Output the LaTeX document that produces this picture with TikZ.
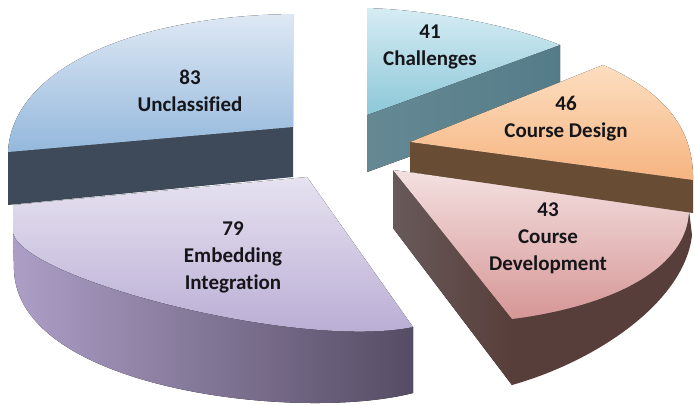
\documentclass[tikz,border=0pt]{standalone}
\usepackage{fontspec}
\setmainfont{Carlito}[Ligatures=NoCommon]
\usepackage{xcolor}
\definecolor{labeltext}{RGB}{22,22,26}
\definecolor{blueTop}{RGB}{222,232,244}
\definecolor{blueBot}{RGB}{148,184,220}
\definecolor{blueCut}{RGB}{62,74,90}
\definecolor{tealTop}{RGB}{214,236,244}
\definecolor{tealBot}{RGB}{140,200,216}
\definecolor{tealCut}{RGB}{84,124,136}
\definecolor{orangeTop}{RGB}{252,222,192}
\definecolor{orangeBot}{RGB}{246,180,128}
\definecolor{orangeCut}{RGB}{104,76,52}
\definecolor{pinkTop}{RGB}{244,224,224}
\definecolor{pinkBot}{RGB}{214,150,150}
\definecolor{pinkCut}{RGB}{104,90,90}
\definecolor{pinkWall}{RGB}{88,62,58}
\definecolor{lilacTop}{RGB}{230,226,240}
\definecolor{lilacBot}{RGB}{182,168,210}
\definecolor{lilacWallL}{RGB}{172,158,198}
\definecolor{lilacWallR}{RGB}{86,76,100}

\begin{document}
\begin{tikzpicture}[x=0.5pt, y=-0.5pt,
    every node/.style={font=\bfseries\fontsize{10.5}{13.5}\selectfont, align=center, text=labeltext},
    cutface/.style={draw=none},
    topface/.style={draw=none}
]
\fill[white] (0,0) rectangle (694,404);
\useasboundingbox (0,0) rectangle (694,404);

% Unclassified slice
\fill[cutface, blueCut] (8,152) -- (293,127) -- (293,177) -- (8,205) -- cycle;
\fill[topface, top color=blueTop, bottom color=blueBot]
    (8,152) .. controls (12,70) and (130,16) .. (293,14) -- (293,127) -- cycle;

% Challenges slice
\fill[cutface, left color=tealCut!90, right color=tealCut] (367,115) -- (560,45) -- (560,102) -- (367,172) -- cycle;
\fill[topface, top color=tealTop, bottom color=tealBot]
    (367,115) -- (367,8) .. controls (430,10) and (510,25) .. (560,45) -- cycle;

% Course Development slice
\fill[cutface, left color=pinkCut, right color=pinkWall] (393,170) -- (512,319) -- (512,385) -- (393,228) -- cycle;
\fill[cutface, pinkWall]
    (512,319) .. controls (620,305) and (688,265) .. (689,210) -- (692,235)
    .. controls (685,300) and (600,360) .. (512,385) -- cycle;
\fill[topface, top color=pinkTop, bottom color=pinkBot]
    (393,170) -- (689,210) .. controls (688,265) and (620,305) .. (512,319) -- cycle;

% Course Design slice
\fill[cutface, orangeCut] (410,142) -- (693,180) -- (693,213) -- (410,172) -- cycle;
\fill[topface, top color=orangeTop, bottom color=orangeBot]
    (410,142) -- (603,65) .. controls (660,90) and (694,125) .. (693,180) -- cycle;

% Embedding Integration slice
\fill[cutface, left color=lilacWallL, right color=lilacWallR]
    (13,233) .. controls (25,280) and (300,350) .. (413,327) -- (413,393)
    .. controls (300,422) and (18,390) .. (14,270) -- cycle;
\fill[topface, top color=lilacTop, bottom color=lilacBot]
    (13,205) -- (307,177) -- (413,327) .. controls (300,350) and (25,280) .. (13,233) -- cycle;

% Labels
\node (unclass) at (190,91) {83\\Unclassified};
\node (chall) at (430,47) {41\\Challenges};
\node (design) at (566,119) {46\\Course Design};
\node (devel) at (548,238) {43\\Course\\Development};
\node (embed) at (233,257) {79\\Embedding\\Integration};

\end{tikzpicture}
\end{document}
